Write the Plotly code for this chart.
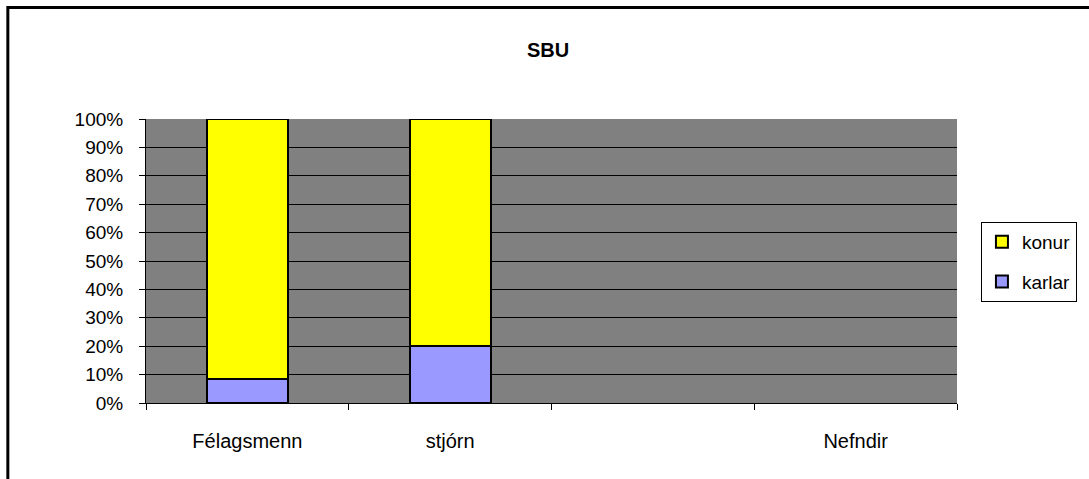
import plotly.graph_objects as go

categories = ["Félagsmenn", "stjórn", "", "Nefndir"]
karlar = [8.5, 20, None, None]
konur = [91.5, 80, None, None]
y_ticks = [0, 10, 20, 30, 40, 50, 60, 70, 80, 90, 100]
y_ticktext = [f"{v}%" for v in y_ticks]

W, H = 1089, 479
L, R, T, B = 146, 130, 119, 76
pw, ph = W - L - R, H - T - B

xpos = list(range(len(categories)))

fig = go.Figure()
fig.add_trace(go.Bar(
    x=xpos, y=karlar, name="karlar", width=0.4,
    marker=dict(color="#9999FF", line=dict(color="black", width=2)),
    legendrank=2, legendgroup="b",
))
fig.add_trace(go.Bar(
    x=xpos, y=konur, name="konur", width=0.4,
    marker=dict(color="#FFFF00", line=dict(color="black", width=2)),
    legendrank=1, legendgroup="a",
))

def px_to_paper_x(p):
    return (p - L) / pw

def px_to_paper_y(p):
    return (H - B - p) / ph

fig.update_layout(
    width=W, height=H,
    barmode="stack",
    margin=dict(l=L, r=R, t=T, b=B, pad=0),
    paper_bgcolor="white",
    plot_bgcolor="#808080",
    font=dict(family="Liberation Sans, Arial, sans-serif", size=19, color="black"),
    title=dict(text="<b>SBU</b>", x=px_to_paper_x(549), xref="paper", xanchor="center",
               y=1 - 50 / H, yanchor="middle", font=dict(size=20)),
    showlegend=True,
    legend=dict(
        x=px_to_paper_x(983), y=px_to_paper_y(222), xanchor="left", yanchor="top",
        bordercolor="black", borderwidth=1, bgcolor="white",
        traceorder="grouped", tracegroupgap=12,
        font=dict(size=19), itemwidth=30,
    ),
    bargap=0,
    xaxis=dict(
        range=[-0.5, len(categories) - 0.5],
        tickvals=xpos, ticktext=categories,
        ticks="", showgrid=False, zeroline=False,
        showline=True, linecolor="black", linewidth=1,
        ticklabelstandoff=20, tickfont=dict(size=20),
        minor=dict(tickvals=[i - 0.5 for i in range(len(categories) + 1)],
                   ticks="outside", ticklen=6, tickcolor="black", showgrid=False),
        fixedrange=True,
    ),
    yaxis=dict(
        range=[0, 100], tickvals=y_ticks, ticktext=y_ticktext,
        ticks="outside", ticklen=6, tickcolor="black",
        showgrid=True, gridcolor="black", gridwidth=1,
        zeroline=False, showline=True, linecolor="black", linewidth=1,
        ticklabelstandoff=12, tickfont=dict(size=19),
        fixedrange=True,
    ),
    shapes=[dict(
        type="rect", xref="paper", yref="paper",
        x0=px_to_paper_x(7.5), x1=px_to_paper_x(1100),
        y0=px_to_paper_y(490), y1=px_to_paper_y(7.5),
        line=dict(color="black", width=3), fillcolor="rgba(0,0,0,0)", layer="above",
    )],
)

fig.write_html(
    "out.html",
    config={"displayModeBar": False},
    post_script="document.body.style.margin='0';document.body.style.overflow='hidden';",
)
